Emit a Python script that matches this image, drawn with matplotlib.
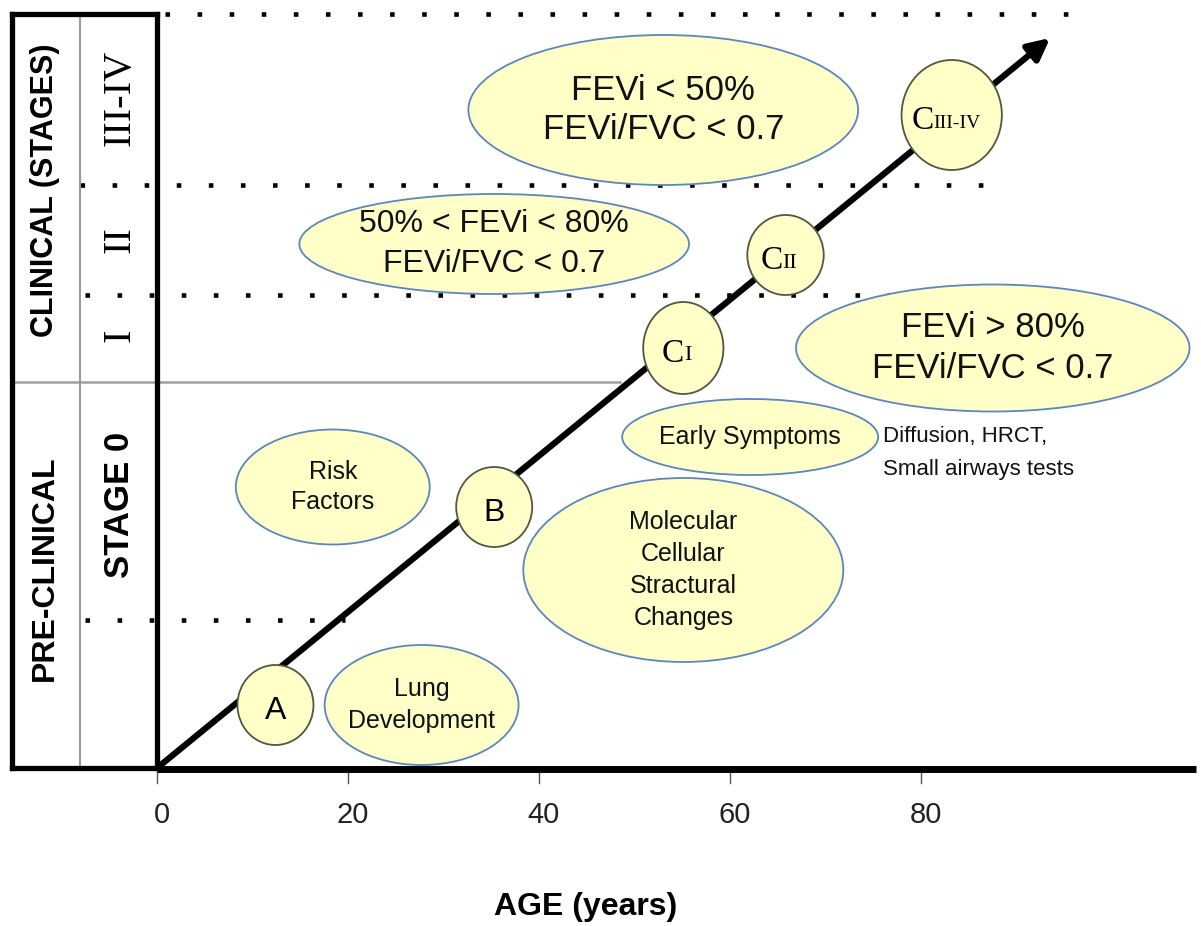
import matplotlib
matplotlib.use("Agg")
import matplotlib.pyplot as plt
from matplotlib.patches import Ellipse

# ---------------- data ----------------
tick_ages = [0, 20, 40, 60, 80]
tick_labels = ["0", "20", "40", "60", "80"]
x_label = "AGE (years)"

phase_labels = ["CLINICAL (STAGES)", "PRE-CLINICAL"]
stage_labels = ["III-IV", "II", "I", "STAGE 0"]

milestone_main = ["A", "B", "C", "C", "C"]
milestone_sub = ["", "", "I", "II", "III-IV"]
milestone_age = [12.4, 35.3, 55.1, 65.8, 83.2]
milestone_lvl = [63, 261, 420, 513, 653]

bubble_texts = ["FEVi < 50%\nFEVi/FVC < 0.7",
                "50% < FEVi < 80%\nFEVi/FVC < 0.7",
                "FEVi > 80%\nFEVi/FVC < 0.7",
                "Early Symptoms",
                "Risk\nFactors",
                "Molecular\nCellular\nStractural\nChanges",
                "Lung\nDevelopment"]
bubble_age = [53.0, 35.3, 87.5, 62.1, 18.4, 55.1, 27.7]
bubble_lvl = [658, 524, 420, 331, 281, 198, 63]

side_note = "Diffusion, HRCT,\nSmall airways tests"

# ---------------- figure ----------------
SANS = ["Liberation Sans", "DejaVu Sans"]
SERIF = ["Liberation Serif", "DejaVu Serif"]

fig = plt.figure(figsize=(12.01, 9.26), dpi=100)
ax = fig.add_axes([0, 0, 1, 1])
ax.set_xlim(-16.44, 109.3)
ax.set_ylim(-158, 768)
ax.axis("off")

FILL = "#ffffc8"
BLUE = "#5b86c0"

# table frame
L, M = -15.18, -8.06
ax.plot([L, 0], [754, 754], color="black", lw=3.8, solid_capstyle="projecting", zorder=3)
ax.plot([L, L], [0, 754], color="black", lw=3.8, solid_capstyle="projecting", zorder=3)
ax.plot([0, 0], [0, 754], color="black", lw=3.8, solid_capstyle="projecting", zorder=3)
ax.plot([M, M], [0, 754], color="#9a9a9a", lw=1.5, zorder=2)
ax.plot([L, 0], [0, 0], color="black", lw=3.8, solid_capstyle="projecting", zorder=3)
ax.plot([0, 108.8], [-1, -1], color="black", lw=5.0, solid_capstyle="butt", zorder=3)

# stage boundaries
dot = dict(color="black", lw=3.3, linestyle=(0, (1, 6.0)), zorder=1)
ax.plot([0.8, 95.5], [754, 754], **dot)
ax.plot([M, 88.3], [583, 583], **dot)
ax.plot([-7.5, 88.3], [473, 473], **dot)
ax.plot([-7.5, 19.7], [148, 148], **dot)
ax.plot([L, 48.5], [386, 386], color="#a0a0a0", lw=1.8, zorder=1)

# ticks
for a, lab in zip(tick_ages, tick_labels):
    ax.plot([a, a], [-4, -15], color="#555555", lw=1.0, zorder=2)
    ax.text(a + 0.5, -47, lab, ha="center", va="center", fontsize=21,
            family=SANS, color="#222222")
ax.text(44.9, -147, x_label, ha="center", va="baseline", fontsize=23,
        family=SANS, fontweight="bold")

# table texts
ax.text(-11.7, 578, phase_labels[0], rotation=90, ha="center", va="center",
        fontsize=22, family=SANS, fontweight="bold")
ax.text(-11.7, 200, phase_labels[1], rotation=90, ha="center", va="center",
        fontsize=23, family=SANS, fontweight="bold")
stage_y = [670, 528, 433, 263]
for s, yy in zip(stage_labels, stage_y):
    if s.startswith("STAGE"):
        ax.text(-3.9, yy, s, rotation=90, ha="center", va="center",
                fontsize=25, family=SANS, fontweight="bold")
    else:
        ax.text(-3.9, yy, s, rotation=90, ha="center", va="center",
                fontsize=29, family=SERIF)

# progression arrow
ax.annotate("", xy=(93.5, 730), xytext=(0, 0),
            arrowprops=dict(arrowstyle="-|>", lw=4.5, color="black",
                            mutation_scale=32, shrinkA=0, shrinkB=0),
            zorder=4)

# bubbles
bw = [40.8, 40.8, 41.2, 26.8, 20.3, 33.5, 20.3]
bh = [150, 100, 127, 76, 115, 184, 120]
bfs = [25, 23, 25, 18, 18, 18, 18]
bls = [1.2, 1.45, 1.3, 1.2, 1.35, 1.42, 1.4]
for t, a, yv, w, h, fs, ls in zip(bubble_texts, bubble_age, bubble_lvl, bw, bh, bfs, bls):
    ax.add_patch(Ellipse((a, yv), w, h, facecolor=FILL, edgecolor=BLUE,
                         lw=1.3, zorder=5))
    ax.text(a, yv, t, ha="center", va="center", fontsize=fs, family=SANS,
            linespacing=ls, color="#111111", zorder=6)

ax.text(76.0, 315, side_note, ha="left", va="center", fontsize=16,
        family=SANS, linespacing=1.7, color="#111111", zorder=6)

# milestone circles
mw = [7.96, 7.96, 8.4, 8.0, 10.5]
mh = [80, 80, 92, 80, 110]
for m, s, a, yv, w, h in zip(milestone_main, milestone_sub, milestone_age,
                             milestone_lvl, mw, mh):
    ax.add_patch(Ellipse((a, yv), w, h, facecolor=FILL, edgecolor="#555544",
                         lw=1.3, zorder=7))
    if s == "":
        ax.text(a, yv - 6, m, ha="center", va="center", fontsize=23,
                family=SANS, zorder=8)
    else:
        sfs = 14 if len(s) > 2 else 16
        off = {"I": 0.5, "II": 0.9, "III-IV": 2.5}[s]
        ax.text(a - off + 0.6, yv - 6, m, ha="right", va="center",
                fontsize=24, family=SERIF, zorder=8)
        ax.text(a - off + 0.6, yv - 8, s, ha="left", va="center",
                fontsize=sfs, family=SERIF, zorder=8)

fig.savefig("out.png", dpi=100, facecolor="white")
